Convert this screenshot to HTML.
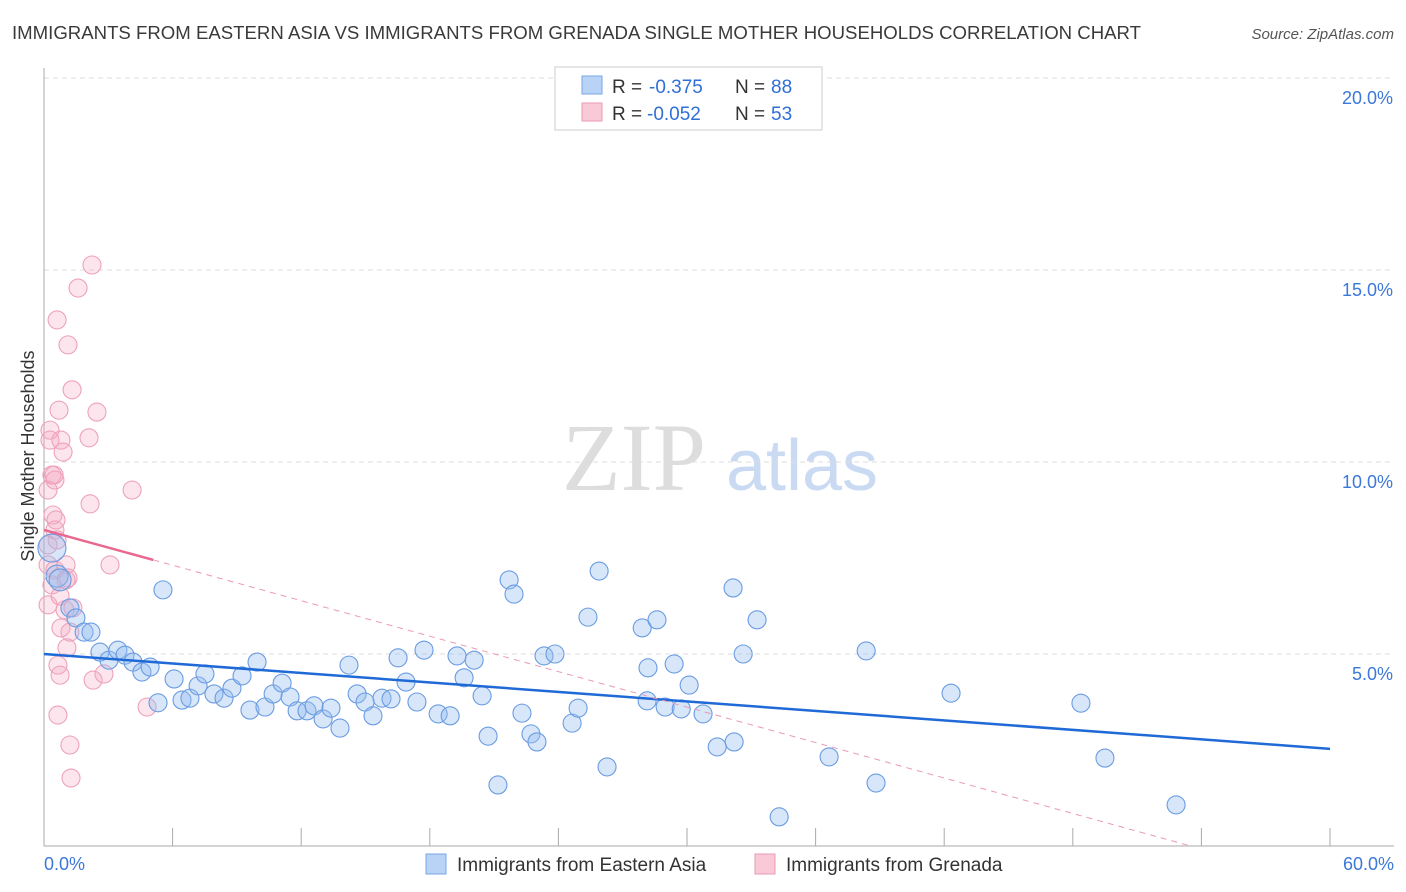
<!DOCTYPE html>
<html><head><meta charset="utf-8"><style>
body{margin:0;background:#fff;font-family:"Liberation Sans",sans-serif;}
svg{display:block}
</style></head><body>
<svg id="chart" width="1406" height="892" xmlns="http://www.w3.org/2000/svg">
<text x="12" y="39" font-size="18" fill="#3a3a3a" textLength="1129" lengthAdjust="spacingAndGlyphs">IMMIGRANTS FROM EASTERN ASIA VS IMMIGRANTS FROM GRENADA SINGLE MOTHER HOUSEHOLDS CORRELATION CHART</text>
<text x="1394" y="39" font-size="15" fill="#555" font-style="italic" text-anchor="end">Source: ZipAtlas.com</text>
<g>
<text x="634" y="490" font-size="96" font-family="Liberation Serif,serif" fill="#ddd" text-anchor="middle">ZIP</text>
<text x="802" y="490" font-size="72" fill="#c9daf2" text-anchor="middle">atlas</text>
</g>
<text transform="translate(34,456) rotate(-90)" font-size="18" fill="#333" text-anchor="middle">Single Mother Households</text>
<g id="grid"></g><g id="axes"></g><g id="marks"></g><g id="trends"></g>
<g>
<rect x="555" y="67" width="267" height="63" fill="#fff" stroke="#ccc"/>
<rect x="582" y="76" width="20" height="18" fill="#b9d3f7" stroke="#7aa6e6"/>
<rect x="582" y="103" width="20" height="18" fill="#fac9d8" stroke="#eb9ab4"/>
<text y="93" font-size="19" fill="#333"><tspan x="612">R =</tspan><tspan x="649" fill="#2f6fd6">-0.375</tspan><tspan x="735">N =</tspan><tspan x="771" fill="#2f6fd6">88</tspan></text>
<text y="120" font-size="19" fill="#333"><tspan x="612">R =</tspan><tspan x="647" fill="#2f6fd6">-0.052</tspan><tspan x="735">N =</tspan><tspan x="771" fill="#2f6fd6">53</tspan></text>
</g>
<g>
<rect x="426" y="854" width="20" height="20" fill="#b9d3f7" stroke="#7aa6e6"/>
<text x="457" y="871" font-size="19" fill="#333">Immigrants from Eastern Asia</text>
<rect x="755" y="854" width="20" height="20" fill="#fac9d8" stroke="#eb9ab4"/>
<text x="786" y="871" font-size="19" fill="#333">Immigrants from Grenada</text>
</g>
</svg>
<script>
const blueX=[0.37,0.61,0.75,1.21,1.49,1.87,2.19,2.61,3.03,3.45,3.78,4.15,4.57,4.95,5.32,5.55,6.07,6.44,6.81,7.19,7.51,7.93,8.40,8.77,9.24,9.61,9.94,10.31,10.69,11.11,11.48,11.81,12.27,12.60,13.02,13.39,13.81,14.23,14.61,14.98,15.35,15.77,16.19,16.52,16.89,17.40,17.73,18.39,18.95,19.27,19.60,20.07,20.44,20.72,21.18,21.70,21.93,22.30,22.72,23.00,23.33,23.84,24.64,24.92,25.38,25.90,26.27,27.91,28.14,28.18,28.60,28.98,29.40,29.73,30.10,30.75,31.41,32.15,32.20,32.62,33.27,34.30,36.63,38.36,38.82,42.32,48.38,49.50,52.82];
const blueY=[7.76,7.03,6.93,6.20,5.94,5.57,5.57,5.05,4.84,5.10,4.97,4.79,4.53,4.66,3.73,6.67,4.35,3.80,3.85,4.17,4.48,3.96,3.85,4.11,4.43,3.54,4.79,3.62,3.96,4.24,3.88,3.52,3.52,3.65,3.31,3.59,3.07,4.71,3.96,3.75,3.39,3.85,3.83,4.90,4.27,3.75,5.10,3.44,3.39,4.95,4.38,4.84,3.91,2.86,1.59,6.93,6.56,3.46,2.92,2.71,4.95,5.00,3.20,3.59,5.96,7.16,2.06,5.68,3.78,4.64,5.89,3.62,4.74,3.57,4.19,3.44,2.58,6.72,2.71,5.00,5.89,0.76,2.32,5.08,1.64,3.98,3.72,2.29,1.07];
const pinkX=[0.19,0.19,0.19,0.19,0.28,0.28,0.37,0.42,0.47,0.51,0.51,0.61,0.65,0.65,0.70,0.75,0.79,0.79,0.89,0.98,1.03,1.07,1.12,1.21,1.26,1.31,1.35,1.59,2.10,2.15,2.24,2.29,2.47,2.80,3.08,4.11,4.81,0.51,0.37,0.61,0.75,1.12,1.21,0.56,1.03];
const pinkY=[7.84,7.32,6.28,9.27,10.57,10.83,9.66,8.62,9.66,8.23,7.19,13.70,4.71,3.41,11.35,4.45,5.68,10.57,10.26,6.15,7.32,5.16,13.05,2.63,1.77,11.88,6.20,14.53,10.63,8.91,15.13,4.32,11.30,4.48,7.32,9.27,3.62,9.53,6.80,7.97,6.51,6.98,5.57,8.49,6.93];
const yTicks=[5,10,15,20];
const yTickLabels=["5.0%","10.0%","15.0%","20.0%"];
const xTicks=[0,6,12,18,24,30,36,42,48,54,60];
const blueTrend=[[0,5.00],[60,2.53]];
const pinkTrendSolid=[[0,8.23],[5.1,7.45]];
const pinkTrendDash=[[5.1,7.45],[53.5,0]];
const X=v=>44+v/60*1286, Y=v=>846-v*38.4;
const NS="http://www.w3.org/2000/svg";
function mk(p,t,a){const e=document.createElementNS(NS,t);for(const k in a)e.setAttribute(k,a[k]);p.appendChild(e);return e;}
const grid=document.getElementById('grid'),axes=document.getElementById('axes'),marks=document.getElementById('marks'),trends=document.getElementById('trends');
yTicks.forEach((t,i)=>{
 const l=mk(grid,'line',{x1:44,x2:1394,y1:Y(t),y2:Y(t),stroke:'#ddd','stroke-dasharray':'5,4'});
 
 
 const tx=mk(axes,'text',{x:1393,y:Y(t)+26,'font-size':18,fill:'#3b78d8','text-anchor':'end'});
 tx.textContent=yTickLabels[i];
 
 
});
const ya=mk(axes,'line',{x1:44,x2:44,y1:68,y2:846,stroke:'#aaa'});


const xa=mk(axes,'line',{x1:44,x2:1394,y1:846,y2:846,stroke:'#aaa'});


xTicks.forEach(t=>{
 const l=mk(axes,'line',{x1:X(t),x2:X(t),y1:828,y2:846,stroke:'#aaa'});
 
 
});
[[0,'0.0%','start',44],[60,'60.0%','end',1394]].forEach(d=>{
 const tx=mk(axes,'text',{x:d[3],y:870,'font-size':18,fill:'#3b78d8','text-anchor':d[2]});
 tx.textContent=d[1];
 
 
});
pinkX.forEach((x,i)=>{
 const c=mk(marks,'circle',{cx:X(x),cy:Y(pinkY[i]),r:9,fill:'rgba(246,170,195,0.3)',stroke:'#eea2ba','stroke-width':1.1});
 
 
});
blueX.forEach((x,i)=>{
 const c=mk(marks,'circle',{cx:X(x),cy:Y(blueY[i]),r:i<3?(i==0?14:11):9,fill:'rgba(150,190,240,0.38)',stroke:'#6a9ce2','stroke-width':1.1});
 
 
});
function tl(p,attrs,name){const l=mk(trends,'line',Object.assign({x1:X(p[0][0]),y1:Y(p[0][1]),x2:X(p[1][0]),y2:Y(p[1][1])},attrs));}
tl(blueTrend,{stroke:'#1f6ad6','stroke-width':2.5},'eastern-asia-trendline');
tl(pinkTrendSolid,{stroke:'#e8688f','stroke-width':2.5},'grenada-trendline');
tl(pinkTrendDash,{stroke:'#eb9ab4','stroke-width':1,'stroke-dasharray':'6,5'},'grenada-trendline-extension');
</script>
</body></html>
